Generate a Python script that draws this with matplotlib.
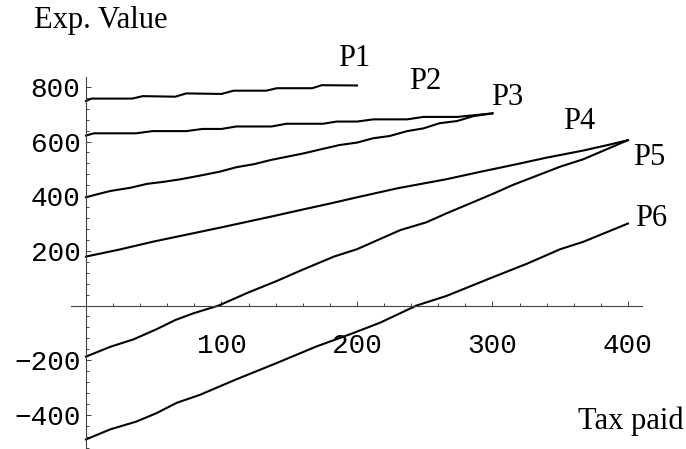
import numpy as np
import matplotlib
matplotlib.use("Agg")
import matplotlib.pyplot as plt
from matplotlib.ticker import MultipleLocator, FixedLocator

# Data (tax paid vs expected value)
p1_x = [0, 4, 34, 42, 66, 74, 100, 109, 133, 141, 167, 174, 200]
p1_y = [748, 757, 757, 766, 764, 776, 774, 786, 786, 795, 795, 806, 805]

p2_x = [0, 6, 37, 49, 74, 86, 100, 111, 137, 148, 175, 185, 200, 212, 237, 249, 274, 300]
p2_y = [622, 630, 630, 638, 638, 646, 646, 655, 655, 665, 665, 673, 673, 681, 681, 690, 690, 703]

p3_x = [0, 6, 18, 33, 45, 58, 70, 86, 99, 111, 124, 136, 148, 161, 173, 187, 200,
        212, 224, 237, 249, 261, 274, 286, 300]
p3_y = [396, 404, 419, 431, 445, 453, 462, 477, 490, 506, 517, 532, 544, 557, 571, 587, 596,
        612, 620, 638, 648, 667, 675, 693, 703]

p4_x = [0, 25, 49, 75, 100, 114, 140, 158, 180, 202, 230, 266, 290, 315, 340, 367, 385, 400]
p4_y = [179, 205, 233, 260, 286, 301, 329, 349, 373, 398, 429, 462, 488, 514, 541, 567, 587, 605]

p5_x = [0, 18, 35, 52, 66, 79, 98, 120, 140, 158, 183, 200, 232, 251, 266, 301, 315, 350, 367, 400]
p5_y = [-187, -151, -124, -87, -53, -29, 0, 48, 88, 127, 179, 206, 276, 304, 337, 410, 441, 508, 535, 605]

p6_x = [0, 18, 37, 52, 67, 84, 111, 140, 170, 195, 217, 244, 266, 301, 325, 350, 367, 400]
p6_y = [-490, -453, -425, -394, -356, -327, -270, -212, -150, -105, -63, 0, 35, 105, 152, 206, 233, 300]

series = [(p1_x, p1_y), (p2_x, p2_y), (p3_x, p3_y), (p4_x, p4_y), (p5_x, p5_y), (p6_x, p6_y)]

labels = ["P1", "P2", "P3", "P4", "P5", "P6"]
label_x = [198, 250, 311, 364, 416, 417]
label_y = [902, 819, 760, 673, 540, 320]

x_ticks = [100, 200, 300, 400]
y_ticks = [-400, -200, 200, 400, 600, 800]

fig = plt.figure(figsize=(6.86, 4.49), dpi=100)
ax = fig.add_axes([0.1036, 0.0, 0.8316, 0.8285])

for xs, ys in series:
    ax.plot(xs, ys, color="black", lw=1.5, solid_joinstyle="round")

for lab, lx, ly in zip(labels, label_x, label_y):
    ax.text(lx, ly, lab, fontsize=22, family="Liberation Serif",
            ha="center", va="center", clip_on=False)

ax.set_xlim(-11, 410)
ax.set_ylim(-525, 836)

# Mathematica style axes crossing at the origin
ax.spines["left"].set_position(("data", 0))
ax.spines["bottom"].set_position(("data", 0))
ax.spines["top"].set_visible(False)
ax.spines["right"].set_visible(False)
for s in ("left", "bottom"):
    ax.spines[s].set_color("#444444")
    ax.spines[s].set_linewidth(0.8)

ax.xaxis.set_major_locator(FixedLocator(x_ticks))
ax.xaxis.set_minor_locator(MultipleLocator(20))
ax.yaxis.set_major_locator(FixedLocator(y_ticks))
ax.yaxis.set_minor_locator(MultipleLocator(40))

ax.tick_params(axis="both", which="both", direction="in", color="#444444", width=0.7)
ax.tick_params(axis="both", which="major", length=3.5)
ax.tick_params(axis="both", which="minor", length=2)
ax.tick_params(axis="x", which="major", pad=20)
ax.tick_params(axis="y", which="major", pad=4)

for t in ax.get_xticklabels() + ax.get_yticklabels():
    t.set_fontfamily("Liberation Mono")
    t.set_fontsize(20)

fig.text(0.147, 0.955, "Exp. Value", fontsize=22, family="Liberation Serif",
         ha="center", va="center")
fig.text(0.919, 0.062, "Tax paid", fontsize=22, family="Liberation Serif",
         ha="center", va="center")

fig.savefig("out.png", dpi=100)
